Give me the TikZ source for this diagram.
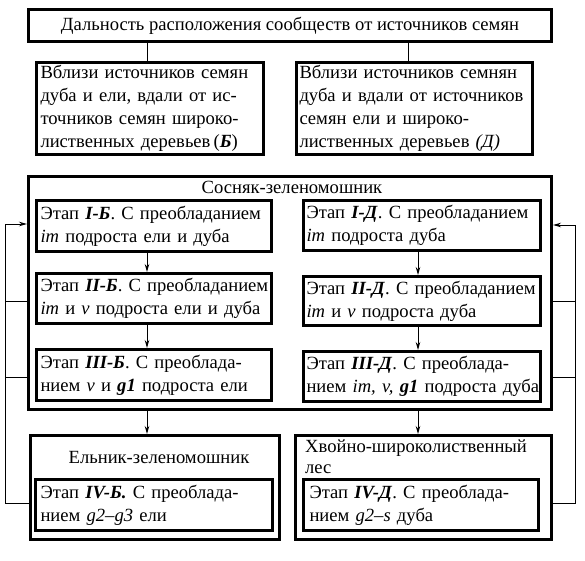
\documentclass[tikz,border=0pt]{standalone}
\usepackage{fontspec}
\setmainfont{Liberation Serif}
\usetikzlibrary{arrows.meta,calc}
\newcommand{\bix}[1]{\textbf{\textit{#1}}}
\newcommand{\onel}[1]{\mbox{#1}}
\begin{document}
\begin{tikzpicture}[x=1pt,y=-1pt,
  box/.style={draw, line width=3pt, rectangle, inner sep=0pt, align=left,
    font=\fontsize{18.6}{23}\selectfont},
  title/.style={inner sep=0pt, align=left, font=\fontsize{18.6}{21}\selectfont},
  conn/.style={line width=1pt},
  arr/.style={line width=1pt, -{Stealth[length=8pt,width=4.5pt]}}]
\useasboundingbox[fill=white] (0,0) rectangle (585,560);

\node[box, minimum width=523, minimum height=32, align=center] (top) at (290,25.5)
  {Дальность расположения сообществ от источников семян};
\node[box, minimum width=227, minimum height=92, text width=219] (B) at (150,108.5)
  {\onel{Вблизи источников семян}\\\onel{дуба и ели, вдали от ис-}\\\onel{точников семян широко-}\\\onel{лиственных деревьев\,(\bix{Б})}};
\node[box, minimum width=236, minimum height=92, text width=230] (D) at (414.5,108.5)
  {\onel{Вблизи источников семнян}\\\onel{дуба и вдали от источников}\\\onel{семян ели и широко-}\\\onel{лиственных деревьев \textit{(Д)}}};

\node[box, minimum width=523, minimum height=233] (big) at (290,293) {};
\node[title] (bigt) at (292,187) {Сосняк-зеленомошник};

\node[box, minimum width=235, minimum height=51, text width=227] (b1) at (154,226)
  {\onel{Этап \bix{I-Б}. С преобладанием}\\\onel{\textit{im} подроста ели и дуба}};
\node[box, minimum width=235, minimum height=50, text width=227] (b2) at (154,298.5)
  {\onel{Этап \bix{II-Б}. С преобладанием}\\\onel{\textit{im} и \textit{v} подроста ели и дуба}};
\node[box, minimum width=235, minimum height=51, text width=227] (b3) at (154,375)
  {\onel{Этап \bix{III-Б}. С преоблада-}\\\onel{нием \textit{v} и \bix{g1} подроста ели}};

\node[box, minimum width=237, minimum height=50, text width=231] (d1) at (422,225.5)
  {\onel{Этап \bix{I-Д}. С преобладанием}\\\onel{\textit{im} подроста дуба}};
\node[box, minimum width=237, minimum height=49, text width=231] (d2) at (422,301)
  {\onel{Этап \bix{II-Д}. С преобладанием}\\\onel{\textit{im} и \textit{v} подроста дуба}};
\node[box, minimum width=237, minimum height=50, text width=231] (d3) at (422,376.5)
  {\onel{Этап \bix{III-Д}. С преоблада-}\\\onel{нием \textit{im, v, }\bix{g1} подроста дуба}};

\node[box, minimum width=249, minimum height=104] (lowL) at (155,487.5) {};
\node[title] (lowLt) at (159,457) {Ельник-зеленомошник};
\node[box, minimum width=237, minimum height=51, text width=227] (b4) at (154,505)
  {\onel{Этап \bix{IV-Б.} С преоблада-}\\\onel{нием \textit{g2–g3} ели}};

\node[box, minimum width=256, minimum height=104] (lowR) at (423.5,487.5) {};
\node[title, anchor=west] (lowRt) at (305,457) {Хвойно-широколиственный\\лес};
\node[box, minimum width=235, minimum height=51, text width=223] (d4) at (421,505)
  {\onel{Этап \bix{IV-Д}. С преоблада-}\\\onel{нием \textit{g2–s} дуба}};

% connectors from top
\draw[conn] ([xshift=-3pt]B.north) -- ([xshift=-3pt]B.north |- top.south);
\draw[conn] ([xshift=-6pt]D.north) -- ([xshift=-6pt]D.north |- top.south);

% arrows within columns
\draw[arr] ([xshift=-7pt]b1.south) -- ([xshift=-7pt]b2.north);
\draw[arr] ([xshift=-7pt]b2.south) -- ([xshift=-7pt]b3.north);
\draw[arr] ([xshift=-4pt]d1.south) -- ([xshift=-4pt]d2.north);
\draw[arr] ([xshift=-4pt]d2.south) -- ([xshift=-4pt]d3.north);

% arrows to lower boxes
\draw[arr] ([xshift=-7pt]b4.north |- big.south) -- ([xshift=-7pt]b4.north |- lowL.north);
\draw[arr] ([xshift=-3pt]d4.north |- big.south) -- ([xshift=-3pt]d4.north |- lowR.north);

% feedback loops
\coordinate (lt) at (5,224);
\coordinate (lb) at (5,503);
\coordinate (l2) at (5,301);
\coordinate (l3) at (5,377);
\draw[arr] (lowL.west |- lb) -- (lb) -- (lt) -- (lt -| big.west);
\draw[conn] (l2) -- (l2 -| big.west);
\draw[conn] (l3) -- (l3 -| big.west);

\coordinate (rt) at (575,225);
\coordinate (rb) at (575,503);
\coordinate (r2) at (575,301);
\coordinate (r3) at (575,377);
\draw[arr] (lowR.east |- rb) -- (rb) -- (rt) -- (rt -| big.east);
\draw[conn] (r2) -- (r2 -| big.east);
\draw[conn] (r3) -- (r3 -| big.east);
\end{tikzpicture}
\end{document}
